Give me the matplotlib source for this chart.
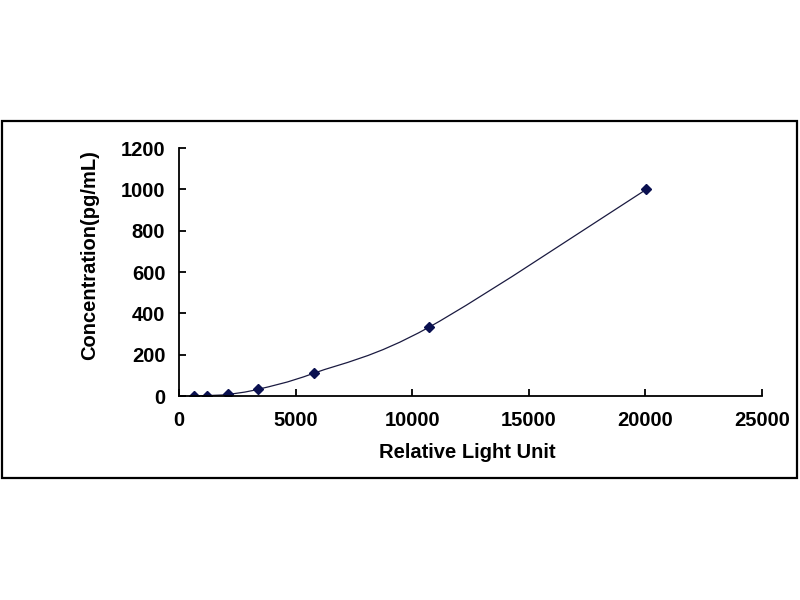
import numpy as np
import matplotlib
matplotlib.use("Agg")
import matplotlib.pyplot as plt
from matplotlib.patches import Rectangle
from matplotlib.path import Path
from matplotlib.patches import PathPatch

# standard curve points
rlu = [650, 1190, 2090, 3400, 5770, 10700, 20040]
conc = [0, 2, 8, 33, 110, 332, 1000]
xticks = [0, 5000, 10000, 15000, 20000, 25000]
yticks = [0, 200, 400, 600, 800, 1000, 1200]

plt.rcParams['font.family'] = ['Liberation Sans', 'DejaVu Sans']

fig = plt.figure(figsize=(8, 6), dpi=100)
ax = fig.add_axes([0.224, 0.34, 0.7285, 0.4133])

# outer frame like the excel chart area
fig.patches.append(Rectangle((2/800, 1-478/600), 795/800, 357/600, transform=fig.transFigure,
                             fill=False, edgecolor='black', linewidth=1.6))

# excel style smoothed line (bezier through the points)
pts = np.column_stack([rlu, conc]).astype(float)
ext = np.vstack([pts[0], pts, pts[-1]])
verts = [tuple(pts[0])]
codes = [Path.MOVETO]
for i in range(len(pts) - 1):
    p0, p1, p2, p3 = ext[i], ext[i+1], ext[i+2], ext[i+3]
    c1 = p1 + (p2 - p0) / 6
    c2 = p2 - (p3 - p1) / 6
    verts += [tuple(c1), tuple(c2), tuple(p2)]
    codes += [Path.CURVE4] * 3
ax.add_patch(PathPatch(Path(verts, codes), fill=False, edgecolor='#1a1a40', linewidth=0.9))

ax.plot(rlu, conc, linestyle='none', marker='D', markersize=5.5, color='#0a1050')

ax.set_xlim(0, 25000)
ax.set_ylim(0, 1200)
ax.set_xticks(xticks)
ax.set_yticks(yticks)
for s in ['top', 'right']:
    ax.spines[s].set_visible(False)
for s in ['left', 'bottom']:
    ax.spines[s].set_linewidth(1.3)
ax.tick_params(direction='in', length=5, width=1.3, labelsize=14.5)
ax.tick_params(axis='y', pad=10)
ax.tick_params(axis='x', pad=11)
for lab in ax.get_xticklabels() + ax.get_yticklabels():
    lab.set_fontweight('bold')

ax.set_xlabel('Relative Light Unit', fontsize=14.5, fontweight='bold')
ax.set_ylabel('Concentration(pg/mL)', fontsize=14.5, fontweight='bold')
ax.xaxis.set_label_coords(0.495, -0.19)
ax.yaxis.set_label_coords(-0.137, 0.57)

fig.savefig('out.png', dpi=100)
